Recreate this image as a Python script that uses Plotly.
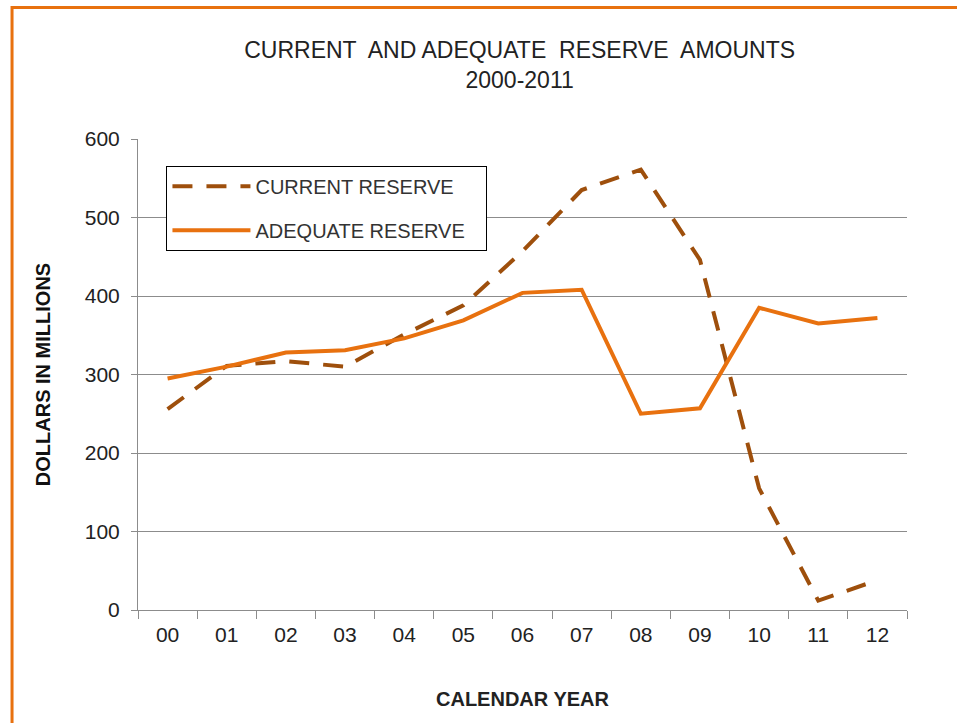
import plotly.graph_objects as go

years = ["00", "01", "02", "03", "04", "05", "06", "07", "08", "09", "10", "11", "12"]
current_reserve = [256, 311, 317, 310, 351, 388, 457, 535, 561, 446, 155, 12, 38]
adequate_reserve = [295, 310, 328, 331, 346, 369, 404, 408, 250, 257, 385, 365, 372]

BROWN = "#9e4f0c"
ORANGE = "#e8710f"
FONT = "Liberation Sans, Arial, sans-serif"

fig = go.Figure()
fig.add_trace(go.Scatter(
    x=years, y=current_reserve, name="CURRENT RESERVE", mode="lines",
    legendgroup="a", line=dict(color=BROWN, width=4, dash="20px,14px"),
))
fig.add_trace(go.Scatter(
    x=years, y=adequate_reserve, name="ADEQUATE RESERVE\u00a0\u00a0\u00a0", mode="lines",
    legendgroup="b", line=dict(color=ORANGE, width=4),
))

fig.update_layout(
    width=957, height=723,
    margin=dict(l=138, r=50, t=139, b=113),
    paper_bgcolor="white", plot_bgcolor="white",
    font=dict(family=FONT, color="#222222"),
    title=dict(
        text="CURRENT  AND ADEQUATE  RESERVE  AMOUNTS<br>2000-2011",
        x=0.543, xanchor="center", y=0.92, yanchor="top",
        font=dict(size=23, color="#222222"),
    ),
    showlegend=True,
    legend=dict(
        x=0.037, y=0.943, xanchor="left", yanchor="top",
        bordercolor="black", borderwidth=1, bgcolor="white",
        font=dict(size=20, color="#333333"),
        itemwidth=78, traceorder="grouped", tracegroupgap=15,
    ),
)

fig.update_xaxes(
    type="category", range=[-0.5, 12.5], showline=True, linecolor="#8c8c8c", linewidth=1,
    ticks="outside", tickson="boundaries", ticklen=8, tickcolor="#8c8c8c",
    showgrid=False, tickfont=dict(size=21, color="#222222"), ticklabelstandoff=6,
    title=dict(text="<b>CALENDAR YEAR</b>", font=dict(size=20, color="#222222"), standoff=46),
)
fig.update_yaxes(
    range=[0, 600], dtick=100, showline=True, linecolor="#8c8c8c", linewidth=1,
    ticks="outside", ticklen=6, tickcolor="#8c8c8c",
    showgrid=True, gridcolor="#8c8c8c", gridwidth=1, zeroline=False,
    tickfont=dict(size=21, color="#222222"), ticklabelstandoff=7,
    title=dict(text="<b>DOLLARS IN MILLIONS</b>", font=dict(size=20, color="#111111"), standoff=28),
)

# orange frame along the top and left edges of the page
fig.add_shape(type="rect", xref="paper", yref="paper", x0=-0.1638, x1=1.2, y0=-0.4, y1=1.279,
              line=dict(color="#e8710f", width=3), fillcolor="rgba(0,0,0,0)", layer="below")

fig.write_html("out.html", config={"displayModeBar": False},
               post_script="document.body.style.margin='0px';")
